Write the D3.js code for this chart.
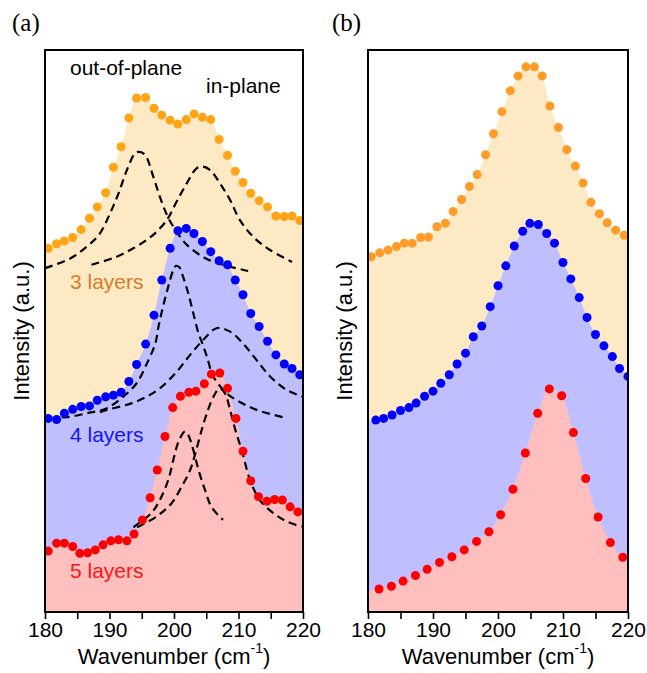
<!DOCTYPE html>
<html>
<head>
<meta charset="utf-8">
<script src="https://cdn.jsdelivr.net/npm/d3@7"></script>
<style>
  body { margin: 0; background: #fff; }
  text { font-family: Arial, "Liberation Sans", sans-serif; }
</style>
</head>
<body>
<svg id="chart" width="647" height="673"></svg>
<script>
// ---- data ----
const xTicks = [180, 185, 190, 195, 200, 205, 210, 215, 220];
const tickLabels = [180, 190, 200, 210, 220];

// panel (a): measured spectra
const aWave34 = [180.5, 181.8, 183.0, 184.3, 185.6, 186.9, 188.1, 189.4, 190.6, 191.8, 193.0, 194.2, 195.6, 196.9, 198.1, 199.4,
  200.6, 201.9, 203.1, 204.4, 205.7, 207.0, 208.3, 209.5, 210.7, 211.9, 213.2, 214.5, 215.8, 217.1, 218.3, 219.5];
const aInt3 = [64.5, 65.3, 65.8, 66.4, 67.8, 69.8, 71.8, 74.3, 78.8, 82.4, 87.5, 91.0, 91.1, 89.2, 88.0, 87.1,
  86.4, 87.2, 88.2, 87.6, 87.2, 83.7, 80.9, 78.1, 76.1, 74.2, 72.9, 71.8, 70.2, 70.1, 70.2, 69.4];
const aInt4 = [34.5, 34.3, 35.4, 36.1, 36.6, 36.7, 37.7, 38.3, 38.6, 39.1, 41.0, 44.0, 47.6, 52.7, 58.9, 64.5,
  67.6, 68.0, 67.1, 65.7, 63.9, 62.3, 61.6, 58.9, 56.3, 53.0, 50.7, 48.1, 45.7, 44.1, 43.3, 42.2];
const aWave5 = [180.5, 181.8, 183.0, 184.3, 185.4, 186.6, 187.8, 189.0, 190.2, 191.4, 192.7, 193.8, 195.1, 196.3, 197.4, 198.6, 199.8,
  201.0, 202.3, 203.4, 204.7, 205.8, 207.1, 208.3, 209.6, 210.7, 211.9, 213.1, 214.4, 215.6, 216.8, 218.0, 219.2];
const aInt5 = [11.1, 12.5, 12.5, 11.9, 10.7, 10.8, 11.3, 12.2, 12.9, 13.1, 12.9, 14.1, 16.6, 20.5, 25.4, 31.3, 36.4,
  38.4, 39.1, 39.3, 40.6, 42.3, 42.5, 39.8, 34.5, 28.7, 23.5, 20.7, 19.9, 20.2, 20.1, 18.9, 18.0];

// panel (a): fitted components (dashed)
const fit3OutX = [180.0, 183.9, 186.5, 188.5, 190.1, 191.4, 192.7, 194.0, 194.6, 195.5, 196.8, 197.8, 198.9, 199.9, 202.0, 205.1, 208.2, 211.5];
const fit3OutY = [61.0, 62.7, 64.8, 67.1, 70.7, 74.2, 78.3, 81.3, 81.5, 81.0, 77.1, 73.6, 70.4, 68.3, 65.1, 62.6, 61.4, 60.5];
const fit3InX = [187.2, 191.1, 193.7, 195.8, 197.3, 198.9, 200.4, 202.0, 203.5, 204.5, 205.6, 207.1, 208.7, 210.2, 212.3, 214.9, 218.3];
const fit3InY = [61.6, 63.0, 64.5, 66.0, 67.4, 69.5, 72.7, 76.0, 78.6, 78.9, 78.3, 76.0, 73.0, 69.5, 66.5, 64.2, 62.1];
const fit4OutX = [182.6, 183.4, 186.5, 189.6, 192.1, 194.2, 195.8, 197.1, 197.6, 198.3, 199.1, 199.9, 200.3, 200.8, 201.4, 202.2,
  203.0, 203.8, 204.3, 205.1, 206.1, 208.2, 210.2, 212.8, 216.9];
const fit4OutY = [34.7, 34.7, 35.4, 36.3, 38.3, 40.7, 44.2, 47.7, 50.7, 54.2, 57.7, 60.7, 61.4, 61.2, 59.5, 56.6,
  53.0, 49.5, 48.0, 45.4, 41.9, 38.9, 37.4, 36.0, 34.7];
const fit4InX = [188.5, 189.6, 192.7, 195.2, 197.8, 200.4, 202.5, 204.5, 206.6, 208.7, 210.7, 212.8, 214.9, 217.5, 220.0];
const fit4InY = [35.6, 36.0, 36.9, 38.0, 39.8, 42.7, 45.7, 48.3, 50.4, 49.8, 47.7, 44.8, 41.9, 39.5, 38.3];
const fit5OutX = [193.7, 196.5, 197.8, 199.1, 199.9, 200.7, 201.7, 202.2, 203.0, 203.8, 204.8, 205.8, 207.6];
const fit5OutY = [15.3, 17.8, 20.1, 23.6, 27.2, 30.4, 32.2, 31.6, 28.9, 25.4, 21.9, 18.9, 16.6];
const fit5InX = [194.3, 197.3, 199.6, 201.2, 202.5, 203.3, 204.3, 205.1, 206.1, 207.1, 207.9, 208.7, 209.5, 210.5, 211.8, 213.3, 215.4, 217.5, 219.8];
const fit5InY = [15.3, 17.2, 19.5, 22.5, 25.4, 28.3, 32.5, 35.4, 38.3, 39.8, 38.9, 36.0, 32.5, 28.9, 23.6, 20.1, 17.8, 16.3, 15.4];

// panel (b): measured spectra
const bWave3 = [180.5, 181.8, 183.1, 184.4, 185.6, 186.8, 188.1, 189.3, 190.6, 191.9, 193.1, 194.4, 195.6, 196.8, 198.1, 199.3,
  200.6, 201.9, 203.1, 204.3, 205.6, 206.8, 208.0, 209.3, 210.6, 211.9, 213.1, 214.3, 215.6, 216.8, 218.1, 219.4];
const bInt3 = [63.0, 63.7, 64.2, 64.8, 65.4, 65.4, 66.4, 66.5, 68.3, 68.9, 71.0, 73.1, 75.4, 77.5, 81.0, 84.7,
  88.6, 92.3, 94.9, 96.5, 96.5, 94.9, 89.6, 85.8, 81.9, 79.0, 76.0, 72.6, 70.6, 69.0, 67.7, 66.8];
const bWave4 = [181.2, 182.4, 183.7, 185.0, 186.3, 187.4, 188.7, 190.0, 191.2, 192.5, 193.7, 195.0, 196.2, 197.5, 198.8, 200.0,
  201.2, 202.5, 203.8, 204.9, 206.2, 207.5, 208.7, 210.0, 211.2, 212.5, 213.7, 215.0, 216.3, 217.6, 218.7, 220.0];
const bInt4 = [34.2, 34.5, 35.1, 35.9, 36.4, 37.2, 38.4, 39.3, 40.7, 42.2, 44.1, 46.0, 48.9, 50.8, 54.2, 57.9,
  61.4, 64.9, 67.5, 68.9, 68.7, 67.1, 65.4, 62.0, 59.1, 55.8, 52.3, 49.3, 47.3, 45.4, 43.3, 41.9];
const bWave5 = [181.7, 183.6, 185.4, 187.3, 189.1, 191.0, 192.9, 194.8, 196.7, 198.6, 200.4, 202.3, 204.2, 206.1, 207.9,
  209.8, 211.6, 213.5, 215.4, 217.3, 219.2];
const bInt5 = [4.4, 4.9, 5.8, 6.8, 7.9, 9.1, 10.1, 11.3, 12.8, 14.5, 17.5, 22.0, 28.4, 35.4, 39.7,
  38.5, 32.0, 23.9, 17.1, 12.6, 10.0];

// ---- layout ----
const svg = d3.select('#chart');
const plotTop = 50, plotBottom = 612;
const y = d3.scaleLinear().domain([0, 100]).range([614, 47]);

const zip = (xs, ys) => xs.map((v, i) => [v, ys[i]]);

// stretch the fill to the frame edges using the end slopes
function toEdges(pts, dom) {
  let [a, b] = pts, [c, d] = pts.slice(-2);
  let s0 = (b[1] - a[1]) / (b[0] - a[0]);
  let s1 = (d[1] - c[1]) / (d[0] - c[0]);
  let out = pts.slice();
  if (a[0] > dom[0]) out.unshift([dom[0], a[1] + s0 * (dom[0] - a[0])]);
  if (d[0] < dom[1]) out.push([dom[1], d[1] + s1 * (dom[1] - d[0])]);
  return out;
}

function drawPanel(id, left, right, layers, fits) {
  let x = d3.scaleLinear().domain([180, 220]).range([left, right]);
  let g = svg.append('g').attr('id', id);

  g.append('clipPath').attr('id', 'clip-' + id)
    .append('rect')
    .attr('x', left).attr('y', plotTop)
    .attr('width', right - left).attr('height', plotBottom - plotTop);

  let body = g.append('g').attr('clip-path', `url(#clip-${id})`);

  let area = d3.area()
    .x(d => x(d[0]))
    .y0(plotBottom)
    .y1(d => y(d[1]))
    .curve(d3.curveMonotoneX);

  layers.forEach(l => {
    body.append('path')
      .attr('d', area(toEdges(zip(l.wave, l.ints), x.domain())))
      .attr('fill', l.fill);
  });

  let line = d3.line()
    .x(d => x(d[0]))
    .y(d => y(d[1]))
    .curve(d3.curveCatmullRom);

  fits.forEach(f => {
    body.append('path')
      .attr('d', line(zip(f[0], f[1])))
      .attr('fill', 'none')
      .attr('stroke', '#000')
      .attr('stroke-width', 2.2)
      .attr('stroke-dasharray', '8,5');
  });

  layers.forEach(l => {
    body.append('g')
      .selectAll('circle')
      .data(zip(l.wave, l.ints))
      .join('circle')
      .attr('cx', d => x(d[0]))
      .attr('cy', d => y(d[1]))
      .attr('r', 4.5)
      .attr('fill', l.dot);
  });

  g.append('rect')
    .attr('x', left).attr('y', plotTop)
    .attr('width', right - left).attr('height', plotBottom - plotTop)
    .attr('fill', 'none')
    .attr('stroke', '#000')
    .attr('stroke-width', 2);

  let axis = d3.axisBottom(x)
    .tickValues(xTicks)
    .tickSize(7)
    .tickPadding(3)
    .tickFormat(d => tickLabels.includes(d) ? d : '');

  let ax = g.append('g')
    .attr('transform', `translate(0,${plotBottom})`)
    .call(axis);
  ax.select('.domain').remove();
  ax.selectAll('line').attr('stroke-width', 1.6);
  ax.selectAll('text')
    .attr('font-size', 21)
    .attr('font-family', 'Arial, "Liberation Sans", sans-serif')
    .attr('fill', '#000');

  let t = g.append('text')
    .attr('x', (left + right) / 2)
    .attr('y', 664)
    .attr('text-anchor', 'middle')
    .attr('font-size', 22);
  t.append('tspan').text('Wavenumber (cm');
  t.append('tspan').attr('font-size', 14).attr('dy', -11).text('-1');
  t.append('tspan').attr('dy', 11).text(')');

  g.append('text')
    .attr('transform', `translate(${left - 16},${(plotTop + plotBottom) / 2}) rotate(-90)`)
    .attr('text-anchor', 'middle')
    .attr('font-size', 22)
    .text('Intensity (a.u.)');

  return { g, x };
}

const colA = { o: '#FFA414', b: '#0000FF', r: '#FF0000' };
const colB = { o: '#FF9C28', b: '#0000FF', r: '#FF0000' };
const fills = { o: '#FDE9C4', b: '#BFBFFF', r: '#FFBFBF' };

let pa = drawPanel('a', 45, 303, [
  { wave: aWave34, ints: aInt3, dot: colA.o, fill: fills.o },
  { wave: aWave34, ints: aInt4, dot: colA.b, fill: fills.b },
  { wave: aWave5, ints: aInt5, dot: colA.r, fill: fills.r },
], [
  [fit3OutX, fit3OutY], [fit3InX, fit3InY],
  [fit4OutX, fit4OutY], [fit4InX, fit4InY],
  [fit5OutX, fit5OutY], [fit5InX, fit5InY],
]);

drawPanel('b', 368, 628, [
  { wave: bWave3, ints: bInt3, dot: colB.o, fill: fills.o },
  { wave: bWave4, ints: bInt4, dot: colB.b, fill: fills.b },
  { wave: bWave5, ints: bInt5, dot: colB.r, fill: fills.r },
], []);

// labels inside panel (a)
const notes = [
  { t: 'out-of-plane', x: 70, y: 75, c: '#000' },
  { t: 'in-plane', x: 206, y: 93, c: '#000' },
  { t: '3 layers', x: 70, y: 289, c: '#D97B29' },
  { t: '4 layers', x: 70, y: 442, c: '#1414FF' },
  { t: '5 layers', x: 70, y: 578, c: '#FF1414' },
];
pa.g.selectAll('text.note')
  .data(notes)
  .join('text')
  .attr('class', 'note')
  .attr('x', d => d.x)
  .attr('y', d => d.y)
  .attr('font-size', 21)
  .attr('fill', d => d.c)
  .text(d => d.t);

svg.append('text').attr('x', 12).attr('y', 31)
  .style('font-family', '"Liberation Serif", "DejaVu Serif", serif')
  .attr('font-size', 25).text('(a)');
svg.append('text').attr('x', 332).attr('y', 31)
  .style('font-family', '"Liberation Serif", "DejaVu Serif", serif')
  .attr('font-size', 25).text('(b)');
</script>
</body>
</html>
